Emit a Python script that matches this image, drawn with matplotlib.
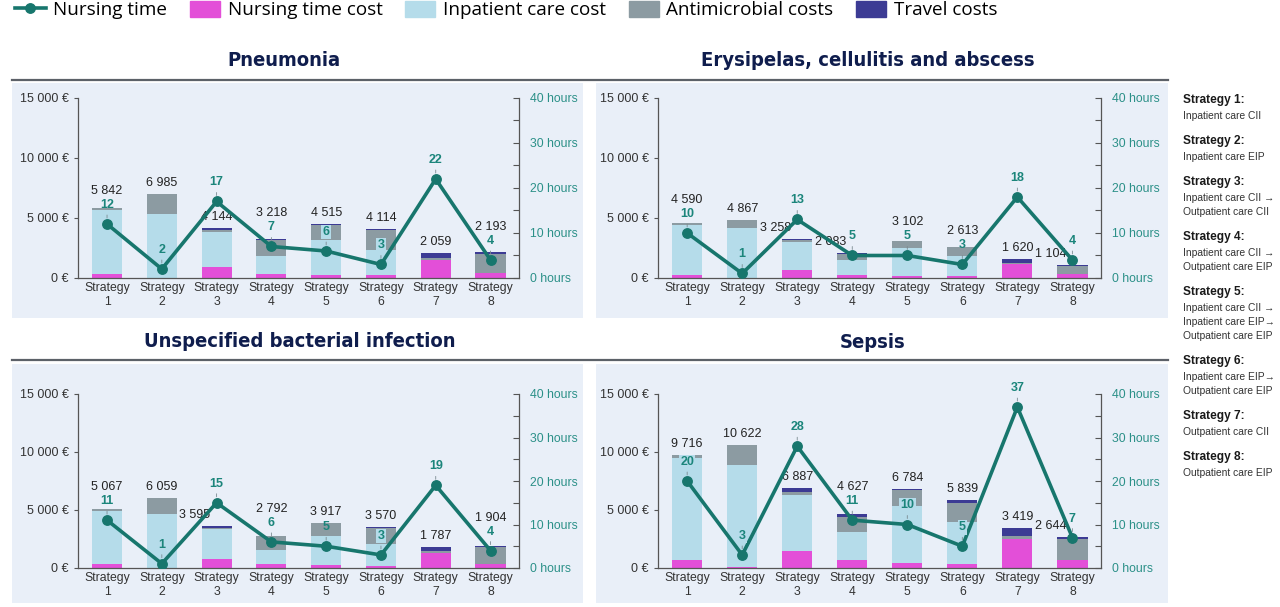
import matplotlib
matplotlib.use('Agg')
import matplotlib.pyplot as plt
import numpy as np
from matplotlib.patches import Rectangle, Patch
from matplotlib.lines import Line2D
from matplotlib.ticker import FuncFormatter, MultipleLocator

strategies = [f"Strategy\n{i}" for i in range(1, 9)]

# cost components in euro, one value per strategy
pneumonia_nursing = [370, 40, 890, 360, 250, 250, 1480, 420]
pneumonia_inpatient = [5270, 5290, 2940, 1500, 2890, 2110, 0, 0]
pneumonia_antimicrobial = [202, 1655, 200, 1280, 1250, 1610, 200, 1610]
pneumonia_travel = [0, 0, 114, 78, 125, 144, 379, 163]
pneumonia_hours = [12, 2, 17, 7, 6, 3, 22, 4]

erysipelas_nursing = [280, 30, 690, 280, 200, 190, 1160, 330]
erysipelas_inpatient = [4140, 4110, 2320, 1210, 2260, 1610, 0, 0]
erysipelas_antimicrobial = [170, 727, 140, 550, 600, 760, 130, 690]
erysipelas_travel = [0, 0, 108, 43, 42, 53, 330, 84]
erysipelas_hours = [10, 1, 13, 5, 5, 3, 18, 4]

unspecified_nursing = [320, 30, 780, 320, 230, 170, 1330, 380]
unspecified_inpatient = [4620, 4590, 2540, 1270, 2520, 1880, 0, 0]
unspecified_antimicrobial = [127, 1439, 160, 1160, 1090, 1420, 150, 1440]
unspecified_travel = [0, 0, 115, 42, 77, 100, 307, 84]
unspecified_hours = [11, 1, 15, 6, 5, 3, 19, 4]

sepsis_nursing = [660, 80, 1470, 660, 460, 380, 2460, 660]
sepsis_inpatient = [8820, 8820, 4830, 2430, 4890, 3610, 0, 0]
sepsis_antimicrobial = [236, 1722, 290, 1330, 1370, 1650, 340, 1800]
sepsis_travel = [0, 0, 297, 207, 64, 199, 619, 184]
sepsis_hours = [20, 3, 28, 11, 10, 5, 37, 7]

strategy_notes = [
    "Inpatient care CII",
    "Inpatient care EIP",
    "Inpatient care CII \u2192\nOutpatient care CII",
    "Inpatient care CII \u2192\nOutpatient care EIP",
    "Inpatient care CII \u2192\nInpatient care EIP\u2192\nOutpatient care EIP",
    "Inpatient care EIP\u2192\nOutpatient care EIP",
    "Outpatient care CII",
    "Outpatient care EIP",
]

C_NURSE = '#e34fd8'
C_INPAT = '#b5dcea'
C_ANTI = '#8c9ba2'
C_TRAVEL = '#3c3b94'
C_LINE = '#17766d'
C_HOURS = '#1b857b'
C_BG = '#e9eff8'
C_TITLE = '#0f1d4d'

W, H = 1280, 607
plt.rcParams['font.family'] = ['Liberation Sans', 'DejaVu Sans']

fig = plt.figure(figsize=(W / 100, H / 100), dpi=100)

# panel: title, components, hours, axes box in pixels, panel box, labels moved left
panels = [
    dict(title="Pneumonia", nursing=pneumonia_nursing, inpat=pneumonia_inpatient,
         anti=pneumonia_antimicrobial, travel=pneumonia_travel, hours=pneumonia_hours,
         box=(78, 519, 98, 278), bg=(12, 583, 83, 318), tx=284, ty=61, shift=[]),
    dict(title="Erysipelas, cellulitis and abscess", nursing=erysipelas_nursing,
         inpat=erysipelas_inpatient, anti=erysipelas_antimicrobial, travel=erysipelas_travel,
         hours=erysipelas_hours, box=(658, 1101, 98, 278), bg=(596, 1168, 83, 318),
         tx=868, ty=61, shift=[2, 3, 7]),
    dict(title="Unspecified bacterial infection", nursing=unspecified_nursing,
         inpat=unspecified_inpatient, anti=unspecified_antimicrobial, travel=unspecified_travel,
         hours=unspecified_hours, box=(78, 519, 394, 568), bg=(12, 583, 364, 603),
         tx=300, ty=341, shift=[2]),
    dict(title="Sepsis", nursing=sepsis_nursing, inpat=sepsis_inpatient,
         anti=sepsis_antimicrobial, travel=sepsis_travel, hours=sepsis_hours,
         box=(658, 1101, 394, 568), bg=(596, 1168, 364, 603), tx=873, ty=343, shift=[7]),
]

for y in (80, 360):
    fig.add_artist(Line2D([12 / W, 1168 / W], [1 - y / H, 1 - y / H], color='#5c6168', lw=1.6))


def euro(v, pos=None):
    return f"{v:,.0f}".replace(',', ' ') + " \u20ac"


px2pt = 72 / 100
x = np.arange(8)

for p in panels:
    x0, x1, y0, y1 = p['bg']
    fig.add_artist(Rectangle((x0 / W, 1 - y1 / H), (x1 - x0) / W, (y1 - y0) / H,
                             transform=fig.transFigure, facecolor=C_BG, edgecolor='none', zorder=0))
    fig.text(p['tx'] / W, 1 - p['ty'] / H, p['title'], ha='center', va='center',
             fontsize=14.5, fontweight='heavy', fontstretch='condensed', color=C_TITLE,
             family=['DejaVu Sans'])

    l, r, t, b = p['box']
    ax = fig.add_axes([l / W, 1 - b / H, (r - l) / W, (b - t) / H])
    ax.patch.set_alpha(0)
    nursing = np.array(p['nursing'])
    inpat = np.array(p['inpat'])
    anti = np.array(p['anti'])
    travel = np.array(p['travel'])
    bw = 0.55
    ax.bar(x, nursing, bw, color=C_NURSE, zorder=2)
    ax.bar(x, inpat, bw, bottom=nursing, color=C_INPAT, zorder=2)
    ax.bar(x, anti, bw, bottom=nursing + inpat, color=C_ANTI, zorder=2)
    ax.bar(x, travel, bw, bottom=nursing + inpat + anti, color=C_TRAVEL, zorder=2)
    totals = nursing + inpat + anti + travel

    ax.set_xlim(-0.53, 7.52)
    ax.set_ylim(0, 15000)
    ax.set_yticks([0, 5000, 10000, 15000])
    ax.yaxis.set_major_formatter(FuncFormatter(euro))
    ax.set_xticks(x)
    ax.set_xticklabels(strategies, fontsize=8.8, color='#333333', linespacing=1.25)
    ax.tick_params(axis='x', length=0, pad=3)
    ax.tick_params(axis='y', labelsize=9, colors='#555555', labelcolor='#333333', length=3, width=0.8)
    for s in ('top', 'right'):
        ax.spines[s].set_visible(False)
    for s in ('left', 'bottom'):
        ax.spines[s].set_color('#555555')
        ax.spines[s].set_linewidth(0.9)

    ax2 = ax.twinx()
    ax2.set_ylim(0, 40)
    ax2.yaxis.set_major_locator(MultipleLocator(10))
    ax2.yaxis.set_minor_locator(MultipleLocator(5))
    ax2.yaxis.set_major_formatter(FuncFormatter(lambda v, pos: f"{v:.0f} hours"))
    ax2.tick_params(axis='y', which='both', direction='in', length=4, width=0.8,
                    colors='#555555', labelcolor='#2b9088', labelsize=8.8, pad=8)
    for s in ('top', 'left', 'bottom'):
        ax2.spines[s].set_visible(False)
    ax2.spines['right'].set_color('#555555')
    ax2.spines['right'].set_linewidth(0.9)
    hours = p['hours']
    ax2.plot(x, hours, color=C_LINE, lw=2.6, marker='o', ms=6.8, zorder=3)

    ppe = (b - t) / 15000
    pph = (b - t) / 40
    for i in x:
        ax2.annotate(str(hours[i]), (i, hours[i]), xytext=(0, 19 * px2pt), textcoords='offset points',
                     ha='center', va='center', fontsize=9, fontweight='bold', color=C_HOURS,
                     bbox=dict(boxstyle='square,pad=0.1', fc=C_INPAT, ec='none') if
                     hours[i] * pph + 25 < totals[i] * ppe else None, zorder=5)
        ax2.annotate('', (i, hours[i]), xytext=(0, 9 * px2pt), textcoords='offset points',
                     arrowprops=dict(arrowstyle='-', color='#7a8a90', lw=0.6, shrinkA=0,
                                     shrinkB=6 * px2pt))
        hy = hours[i] * pph + 19
        ty = totals[i] * ppe + 11
        dx = 0
        if i in p['shift']:
            dx = -22
        elif abs(ty - hy) < 12:
            ty = hy + 14
        ax.annotate(f"{totals[i]:,.0f}".replace(',', ' '), (i, 0),
                    xytext=(dx * px2pt, ty * px2pt), textcoords='offset points',
                    ha='center', va='center', fontsize=9, color='#222222', zorder=4)

# strategy key on the right
yy = 100
for k, note in enumerate(strategy_notes):
    fig.text(1183 / W, 1 - yy / H, f"Strategy {k + 1}:", fontsize=8.6, fontweight='bold',
             color='#1a1a1a', va='center', ha='left')
    lines = note.split('\n')
    for j, line in enumerate(lines):
        fig.text(1183 / W, 1 - (yy + 16 + 14 * j) / H, line, fontsize=7.4, color='#333333',
                 va='center', ha='left')
    yy += 16 + 14 * (len(lines) - 1) + 25

handles = [
    Line2D([], [], color=C_LINE, lw=2.6, marker='o', ms=6.8),
    Patch(color=C_NURSE),
    Patch(color=C_INPAT),
    Patch(color=C_ANTI),
    Patch(color=C_TRAVEL),
]
names = ["Nursing time", "Nursing time cost", "Inpatient care cost", "Antimicrobial costs", "Travel costs"]
fig.legend(handles, names, loc='center left', bbox_to_anchor=(0.012, 1 - 10 / H), ncol=5,
           frameon=False, handlelength=1.6, handleheight=1.0, handletextpad=0.4,
           columnspacing=1.2, borderaxespad=0, borderpad=0,
           prop=dict(family=['Open Sans', 'DejaVu Sans'], size=13.6))

fig.savefig('out.png', dpi=100)
